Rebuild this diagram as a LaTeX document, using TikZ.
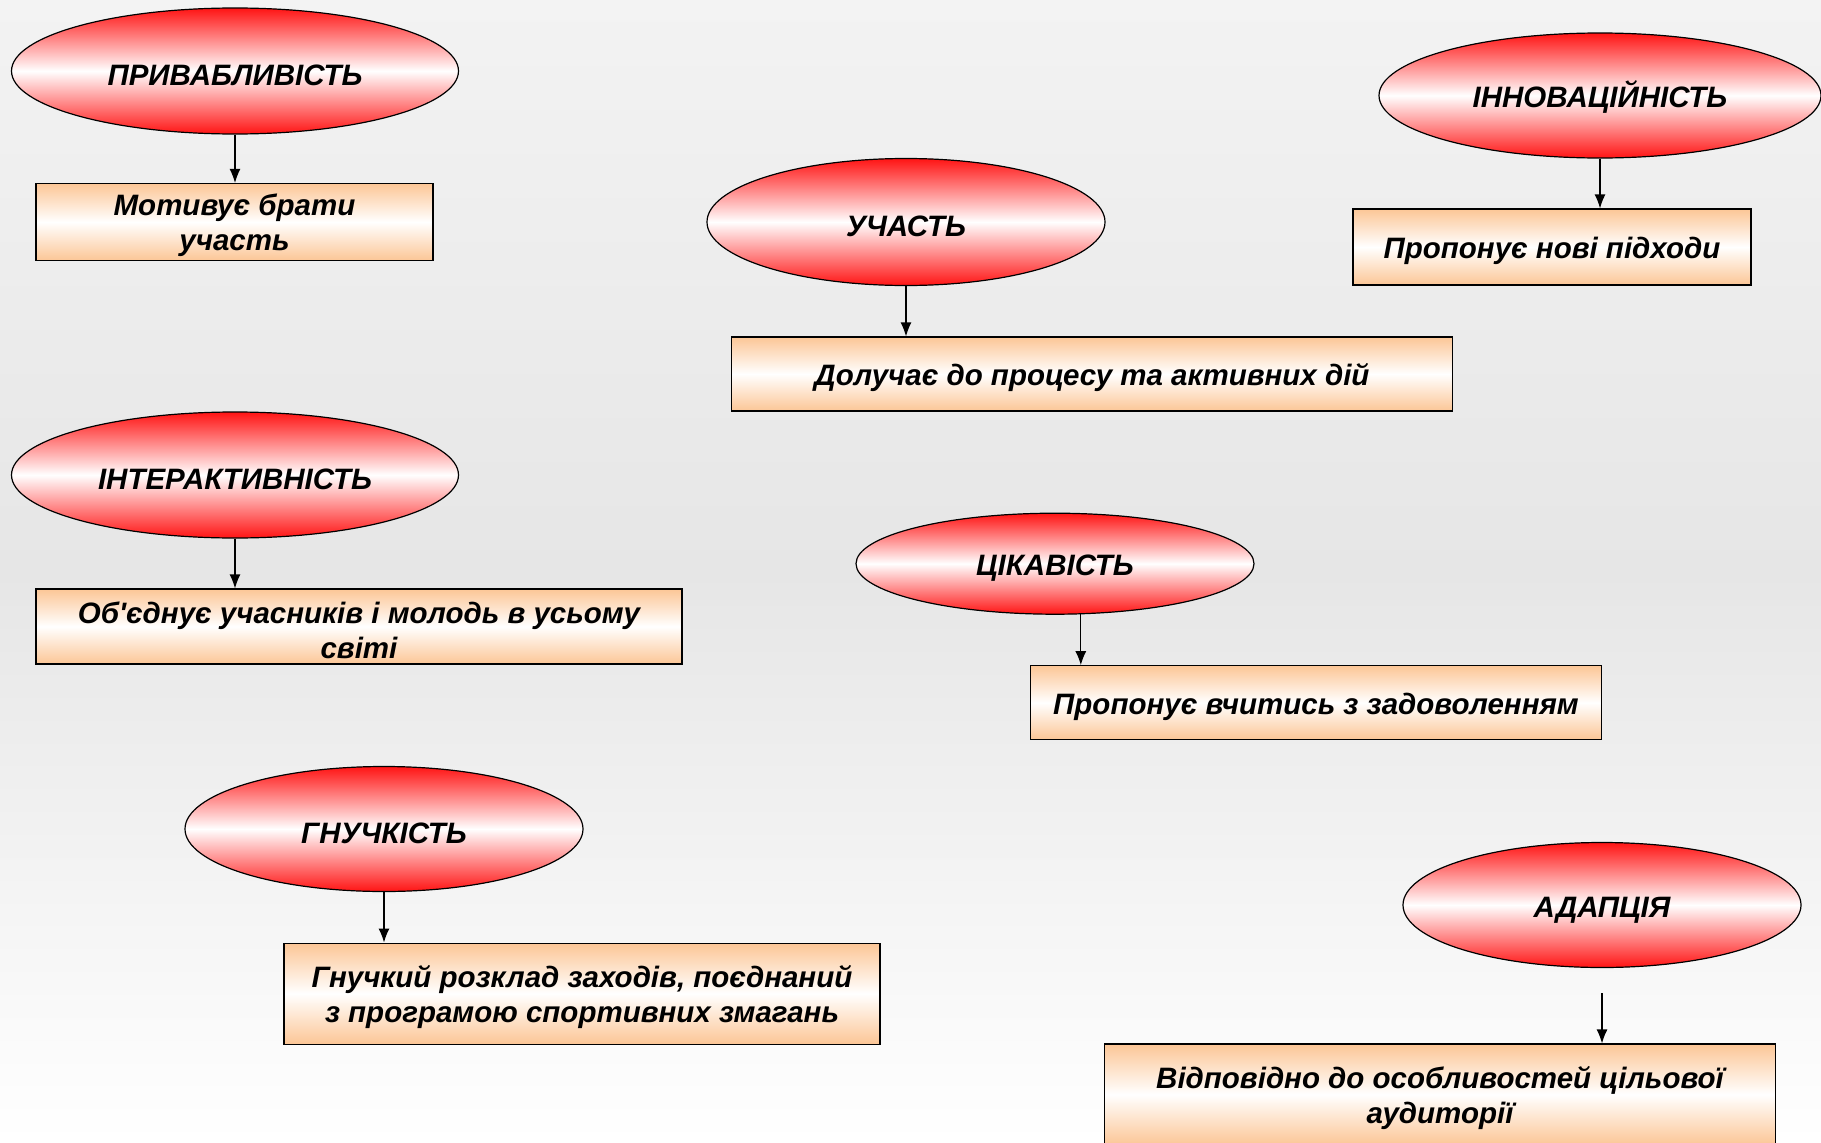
\documentclass[tikz,border=0pt]{standalone}
\usepackage{fontspec}
\setmainfont{Liberation Sans}
\usetikzlibrary{arrows.meta, shapes.geometric}

\definecolor{boxorange}{RGB}{252,198,150}
\definecolor{ovalred}{RGB}{255,20,20}
\definecolor{bgtop}{RGB}{243,243,243}
\definecolor{bgmid}{RGB}{230,230,230}

\begin{document}
\begin{tikzpicture}[
    x=1pt, y=-1pt,
    every node/.style={font=\fontsize{29.5}{35}\selectfont\bfseries\itshape, align=center, inner sep=0pt,
        execute at begin node={\rule{0pt}{30pt}}},
    twolines/.style={execute at begin node={\rule{0pt}{64pt}}},
    quality/.style={draw, ellipse, line width=1.2pt, top color=ovalred, bottom color=ovalred, middle color=white, minimum width=398pt, minimum height=125pt},
    effect/.style={draw, rectangle, line width=1.2pt, top color=boxorange, bottom color=boxorange, middle color=white, minimum height=75pt},
    >={Latex[length=14pt, width=11pt]}
]

% Background
\useasboundingbox (0,0) rectangle (1821,1143);
\clip (0,0) rectangle (1821,1143);
\fill[top color=bgtop, bottom color=white, middle color=bgmid] (0,0) rectangle (1821,1143);

% Nodes
\node[quality, minimum width=447pt, minimum height=126pt] (attract) at (235,71) {ПРИВАБЛИВІСТЬ};
\node[effect, twolines, minimum width=397pt, minimum height=77pt] (attractbox) at (234.5,222) {Мотивує брати\\участь};

\node[quality, minimum height=127pt] (partake) at (906,222) {УЧАСТЬ};
\node[effect, minimum width=721pt, minimum height=74pt] (partakebox) at (1092,374) {Долучає до процесу та активних дій};

\node[quality, minimum width=442pt] (innov) at (1600,95.5) {ІННОВАЦІЙНІСТЬ};
\node[effect, minimum width=398pt, minimum height=76pt] (innovbox) at (1552,247) {Пропонує нові підходи};

\node[quality, minimum width=447pt, minimum height=126pt] (interact) at (235,475) {ІНТЕРАКТИВНІСТЬ};
\node[effect, twolines, minimum width=646pt] (interactbox) at (359,626.5) {Об\textquotesingle єднує учасників і молодь в усьому\\світі};

\node[quality, minimum height=101pt] (curious) at (1055,563.7) {ЦІКАВІСТЬ};
\node[effect, minimum width=571pt, minimum height=74pt] (curiousbox) at (1316,702.7) {Пропонує вчитись з задоволенням};

\node[quality] (flex) at (384,829) {ГНУЧКІСТЬ};
\node[effect, twolines, minimum width=596pt, minimum height=101pt] (flexbox) at (582,993.6) {Гнучкий розклад заходів, поєднаний\\з програмою спортивних змагань};

\node[quality] (adapt) at (1602,905) {АДАПЦІЯ};
\node[effect, twolines, minimum width=671pt, minimum height=101pt] (adaptbox) at (1440,1094.5) {Відповідно до особливостей цільової\\аудиторії};
\coordinate (adaptgap) at (1602,993);

% Arrows
\draw[->, line width=1.2pt] (attract.south) -- (attract.south |- attractbox.north);
\draw[->, line width=1.2pt] (partake.south) -- (partake.south |- partakebox.north);
\draw[->, line width=1.2pt] (innov.south) -- (innov.south |- innovbox.north);
\draw[->, line width=1.2pt] (interact.south) -- (interact.south |- interactbox.north);
\draw[->, line width=1.2pt] (curious.-63.5) -- (curious.-63.5 |- curiousbox.north);
\draw[->, line width=1.2pt] (flex.south) -- (flex.south |- flexbox.north);
\draw[->, line width=1.2pt] (adaptgap) -- (adaptgap |- adaptbox.north);

\end{tikzpicture}
\end{document}
